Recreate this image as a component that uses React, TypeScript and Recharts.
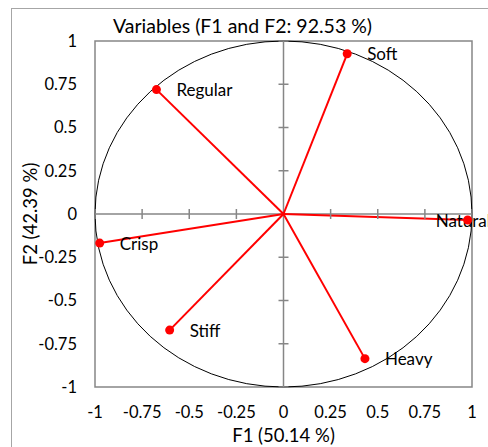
import React from 'react';
import {
  ScatterChart,
  Scatter,
  XAxis,
  YAxis,
  ReferenceLine,
  ReferenceArea,
  ReferenceDot,
} from 'recharts';

const variables = ['Soft', 'Regular', 'Natural', 'Crisp', 'Stiff', 'Heavy'];
const f1 = [0.338, -0.674, 0.977, -0.975, -0.604, 0.432];
const f2 = [0.926, 0.719, -0.035, -0.168, -0.671, -0.836];
const axisTicks = [-1, -0.75, -0.5, -0.25, 0, 0.25, 0.5, 0.75, 1];

const points = variables.map((name, i) => ({ name, x: f1[i], y: f2[i] }));
const innerTicks = axisTicks.filter((t) => t !== 0);

const FONT = 'Lato, "Open Sans", sans-serif';
const RED = '#ff0000';
const GRAY = '#868686';

// labels sit to the right of the dot, except the one squeezed at the edge
const labelDx = (name: string) => (name === 'Natural' ? -32 : 20);

const VectorTip = (props: any) => {
  const { cx, cy, payload } = props;
  return (
    <g>
      <text
        x={cx + labelDx(payload.name)}
        y={cy}
        dominantBaseline="central"
        fontSize={17}
        fontFamily={FONT}
        fill="#000"
      >
        {payload.name}
      </text>
      <circle cx={cx} cy={cy} r={4.5} fill={RED} />
    </g>
  );
};

const UnitCircle = (props: any) => {
  const { x, y, width, height } = props;
  return (
    <ellipse
      cx={x + width / 2}
      cy={y + height / 2}
      rx={width / 2}
      ry={height / 2}
      fill="none"
      stroke="#000"
      strokeWidth={1}
    />
  );
};

const HTick = (props: any) => (
  <line x1={props.cx - 5} x2={props.cx + 5} y1={props.cy} y2={props.cy} stroke={GRAY} strokeWidth={1.5} />
);
const VTick = (props: any) => (
  <line x1={props.cx} x2={props.cx} y1={props.cy - 5} y2={props.cy + 5} stroke={GRAY} strokeWidth={1.5} />
);

const YTitle = (props: any) => {
  const vb = props.viewBox || { x: 0, y: 41, width: 95, height: 346 };
  const cx = 30;
  const cy = vb.y + vb.height / 2;
  return (
    <text
      x={cx}
      y={cy}
      transform={`rotate(-90 ${cx} ${cy})`}
      textAnchor="middle"
      dominantBaseline="central"
      fontSize={18.5}
      fontFamily={FONT}
      fill="#000"
    >
      F2 (42.39 %)
    </text>
  );
};

const XTitle = (props: any) => {
  const vb = props.viewBox || { x: 95, y: 387, width: 377, height: 60 };
  return (
    <text
      x={vb.x + vb.width / 2}
      y={435}
      textAnchor="middle"
      dominantBaseline="central"
      fontSize={18.5}
      fontFamily={FONT}
      fill="#000"
    >
      F1 (50.14 %)
    </text>
  );
};

export default function App() {
  const tickStyle = { fontSize: 16.5, fill: '#000', fontFamily: FONT };
  return (
    <div
      style={{
        position: 'absolute',
        left: 0,
        top: 0,
        width: 488,
        height: 447,
        overflow: 'hidden',
        background: '#fff',
        fontFamily: FONT,
      }}
    >
      <div
        style={{
          position: 'absolute',
          left: 11,
          top: 8,
          width: 520,
          height: 520,
          border: '1.5px solid #a6a6a6',
        }}
      />
      <div style={{ position: 'absolute', left: 0, top: 0 }}>
        <ScatterChart width={488} height={447} margin={{ top: 41, right: 16, bottom: 0, left: 0 }}>
          <XAxis
            dataKey="x"
            type="number"
            domain={[-1, 1]}
            ticks={axisTicks}
            interval={0}
            tick={tickStyle}
            tickLine={false}
            tickSize={0}
            tickMargin={19}
            axisLine={false}
            height={60}
            label={<XTitle />}
          />
          <YAxis
            dataKey="y"
            type="number"
            domain={[-1, 1]}
            ticks={axisTicks}
            interval={0}
            tick={tickStyle}
            tickLine={false}
            tickSize={0}
            tickMargin={18}
            axisLine={false}
            width={95}
            label={<YTitle />}
          />
          <ReferenceArea x1={-1} x2={1} y1={-1} y2={1} fill="none" stroke={GRAY} strokeWidth={1.5} fillOpacity={0} />
          <ReferenceLine x={0} stroke={GRAY} strokeWidth={1.5} />
          <ReferenceLine y={0} stroke={GRAY} strokeWidth={1.5} />
          {innerTicks.map((t) => (
            <ReferenceDot key={`h${t}`} x={0} y={t} r={0} shape={<HTick />} />
          ))}
          {innerTicks.map((t) => (
            <ReferenceDot key={`v${t}`} x={t} y={0} r={0} shape={<VTick />} />
          ))}
          <ReferenceArea x1={-1} x2={1} y1={-1} y2={1} shape={<UnitCircle />} />
          {points.map((p) => (
            <ReferenceLine
              key={p.name}
              segment={[
                { x: 0, y: 0 },
                { x: p.x, y: p.y },
              ]}
              stroke={RED}
              strokeWidth={2}
            />
          ))}
          <Scatter data={points} shape={<VectorTip />} isAnimationActive={false} />
        </ScatterChart>
      </div>
      <svg
        width={488}
        height={447}
        style={{ position: 'absolute', left: 0, top: 0, pointerEvents: 'none' }}
      >
        <text x={242.5} y={32.5} textAnchor="middle" fontSize={19.5} fontFamily={FONT} fill="#000">
          Variables (F1 and F2: 92.53 %)
        </text>
      </svg>
    </div>
  );
}
